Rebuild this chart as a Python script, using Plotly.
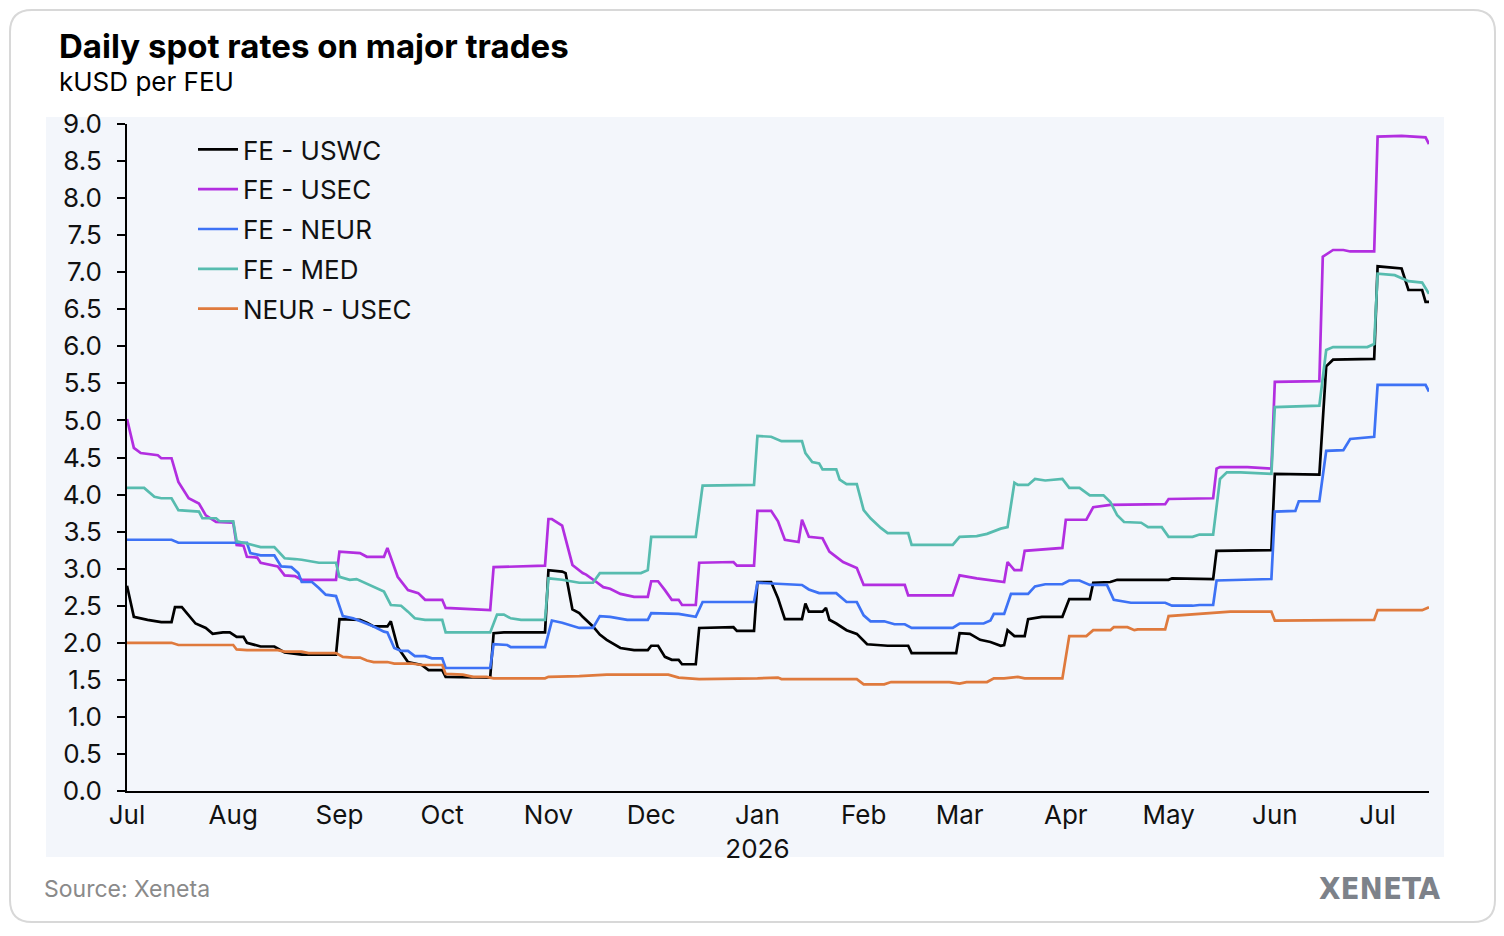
import plotly.graph_objects as go

# ---------------- data (kUSD per FEU) ----------------
uswc_dates = ["2025-07-01","2025-07-03","2025-07-07","2025-07-11","2025-07-14","2025-07-15","2025-07-17","2025-07-19","2025-07-21","2025-07-24","2025-07-26","2025-07-29","2025-07-31","2025-08-02","2025-08-04","2025-08-05","2025-08-08","2025-08-09","2025-08-13","2025-08-16","2025-08-21","2025-08-31","2025-09-01","2025-09-07","2025-09-09","2025-09-11","2025-09-15","2025-09-16","2025-09-18","2025-09-21","2025-09-22","2025-09-25","2025-09-27","2025-10-01","2025-10-02","2025-10-15","2025-10-16","2025-10-19","2025-10-31","2025-11-01","2025-11-05","2025-11-06","2025-11-08","2025-11-10","2025-11-11","2025-11-14","2025-11-16","2025-11-18","2025-11-22","2025-11-26","2025-11-30","2025-12-01","2025-12-03","2025-12-05","2025-12-07","2025-12-09","2025-12-10","2025-12-14","2025-12-15","2025-12-25","2025-12-26","2025-12-31","2026-01-01","2026-01-05","2026-01-07","2026-01-09","2026-01-14","2026-01-15","2026-01-16","2026-01-20","2026-01-21","2026-01-22","2026-01-24","2026-01-27","2026-01-30","2026-02-02","2026-02-08","2026-02-14","2026-02-15","2026-02-28","2026-03-01","2026-03-04","2026-03-07","2026-03-10","2026-03-13","2026-03-14","2026-03-15","2026-03-17","2026-03-20","2026-03-21","2026-03-25","2026-03-31","2026-04-02","2026-04-08","2026-04-09","2026-04-14","2026-04-16","2026-05-01","2026-05-02","2026-05-08","2026-05-14","2026-05-15","2026-05-31","2026-06-01","2026-06-14","2026-06-16","2026-06-18","2026-06-30","2026-07-01","2026-07-08","2026-07-10","2026-07-14","2026-07-15","2026-07-16"]
uswc_values = [2.77,2.35,2.31,2.28,2.28,2.48,2.48,2.37,2.26,2.20,2.12,2.14,2.14,2.08,2.08,2.00,1.97,1.95,1.95,1.87,1.84,1.84,2.32,2.31,2.27,2.22,2.22,2.29,1.94,1.74,1.73,1.70,1.63,1.63,1.54,1.53,2.13,2.14,2.14,2.98,2.96,2.94,2.45,2.40,2.35,2.22,2.11,2.04,1.93,1.90,1.90,1.96,1.96,1.81,1.77,1.77,1.71,1.71,2.20,2.21,2.16,2.16,2.82,2.82,2.60,2.32,2.32,2.53,2.42,2.42,2.47,2.31,2.26,2.17,2.12,1.98,1.96,1.96,1.86,1.86,2.13,2.12,2.04,2.01,1.96,1.97,2.17,2.09,2.09,2.32,2.35,2.35,2.59,2.59,2.81,2.82,2.85,2.85,2.87,2.87,2.86,3.24,3.25,4.28,4.27,5.73,5.82,5.83,7.08,7.05,6.76,6.76,6.60,6.60]

usec_dates = ["2025-07-01","2025-07-03","2025-07-05","2025-07-10","2025-07-11","2025-07-14","2025-07-16","2025-07-19","2025-07-22","2025-07-24","2025-07-27","2025-07-31","2025-08-01","2025-08-02","2025-08-04","2025-08-05","2025-08-08","2025-08-09","2025-08-14","2025-08-16","2025-08-19","2025-08-21","2025-08-31","2025-09-01","2025-09-07","2025-09-09","2025-09-14","2025-09-15","2025-09-18","2025-09-21","2025-09-24","2025-09-26","2025-10-01","2025-10-02","2025-10-15","2025-10-16","2025-10-31","2025-11-01","2025-11-02","2025-11-05","2025-11-08","2025-11-11","2025-11-12","2025-11-15","2025-11-17","2025-11-19","2025-11-22","2025-11-26","2025-11-30","2025-12-01","2025-12-03","2025-12-05","2025-12-07","2025-12-09","2025-12-10","2025-12-14","2025-12-15","2025-12-25","2025-12-26","2025-12-31","2026-01-01","2026-01-05","2026-01-07","2026-01-09","2026-01-13","2026-01-14","2026-01-16","2026-01-20","2026-01-22","2026-01-24","2026-01-26","2026-01-30","2026-02-01","2026-02-13","2026-02-14","2026-02-27","2026-03-01","2026-03-06","2026-03-10","2026-03-14","2026-03-15","2026-03-17","2026-03-19","2026-03-20","2026-03-31","2026-04-01","2026-04-07","2026-04-09","2026-04-14","2026-04-30","2026-05-01","2026-05-14","2026-05-15","2026-05-16","2026-05-24","2026-05-31","2026-06-01","2026-06-14","2026-06-15","2026-06-18","2026-06-21","2026-06-23","2026-06-30","2026-07-01","2026-07-08","2026-07-15","2026-07-16"]
usec_values = [5.02,4.63,4.56,4.53,4.49,4.49,4.17,3.95,3.88,3.72,3.63,3.62,3.62,3.32,3.31,3.16,3.15,3.08,3.03,2.91,2.90,2.85,2.85,3.23,3.21,3.16,3.16,3.28,2.89,2.71,2.67,2.58,2.58,2.47,2.44,3.02,3.04,3.67,3.67,3.58,3.05,2.94,2.92,2.82,2.75,2.73,2.66,2.62,2.62,2.83,2.83,2.71,2.58,2.58,2.51,2.51,3.08,3.09,3.04,3.04,3.78,3.78,3.64,3.39,3.36,3.66,3.43,3.41,3.23,3.16,3.09,3.01,2.78,2.78,2.64,2.64,2.91,2.87,2.84,2.82,3.09,2.98,2.98,3.24,3.28,3.66,3.66,3.83,3.86,3.87,3.94,3.95,4.35,4.37,4.37,4.35,5.52,5.53,7.21,7.30,7.30,7.28,7.28,8.83,8.84,8.82,8.73]

neur_dates = ["2025-07-01","2025-07-14","2025-07-16","2025-08-05","2025-08-06","2025-08-09","2025-08-13","2025-08-15","2025-08-18","2025-08-20","2025-08-21","2025-08-24","2025-08-26","2025-08-28","2025-08-31","2025-09-02","2025-09-05","2025-09-08","2025-09-11","2025-09-14","2025-09-15","2025-09-17","2025-09-19","2025-09-21","2025-09-23","2025-09-26","2025-09-28","2025-10-01","2025-10-02","2025-10-15","2025-10-16","2025-10-20","2025-10-21","2025-10-31","2025-11-02","2025-11-05","2025-11-10","2025-11-14","2025-11-16","2025-11-19","2025-11-24","2025-11-30","2025-12-01","2025-12-09","2025-12-14","2025-12-16","2025-12-31","2026-01-01","2026-01-14","2026-01-16","2026-01-19","2026-01-24","2026-01-27","2026-01-30","2026-02-01","2026-02-03","2026-02-07","2026-02-10","2026-02-13","2026-02-15","2026-02-27","2026-03-01","2026-03-08","2026-03-10","2026-03-11","2026-03-14","2026-03-16","2026-03-21","2026-03-23","2026-03-26","2026-03-31","2026-04-02","2026-04-05","2026-04-08","2026-04-13","2026-04-15","2026-04-20","2026-04-30","2026-05-02","2026-05-08","2026-05-10","2026-05-14","2026-05-15","2026-05-31","2026-06-01","2026-06-07","2026-06-08","2026-06-14","2026-06-16","2026-06-21","2026-06-23","2026-06-30","2026-07-01","2026-07-15","2026-07-16"]
neur_values = [3.39,3.39,3.35,3.35,3.21,3.18,3.18,3.03,3.02,2.94,2.82,2.82,2.74,2.65,2.63,2.36,2.33,2.28,2.22,2.15,2.14,1.93,1.89,1.89,1.82,1.82,1.79,1.79,1.66,1.66,1.98,1.97,1.94,1.94,2.30,2.27,2.20,2.20,2.36,2.35,2.31,2.31,2.40,2.39,2.35,2.55,2.55,2.81,2.78,2.72,2.67,2.67,2.55,2.55,2.37,2.29,2.29,2.25,2.25,2.20,2.20,2.26,2.26,2.30,2.39,2.39,2.66,2.66,2.76,2.79,2.79,2.84,2.84,2.78,2.78,2.58,2.54,2.54,2.50,2.50,2.51,2.51,2.84,2.86,3.77,3.78,3.91,3.91,4.59,4.60,4.75,4.78,5.48,5.48,5.39]

med_dates = ["2025-07-01","2025-07-06","2025-07-09","2025-07-11","2025-07-14","2025-07-16","2025-07-22","2025-07-23","2025-07-27","2025-07-28","2025-08-01","2025-08-02","2025-08-05","2025-08-09","2025-08-13","2025-08-16","2025-08-19","2025-08-21","2025-08-26","2025-08-31","2025-09-01","2025-09-04","2025-09-06","2025-09-09","2025-09-11","2025-09-14","2025-09-16","2025-09-19","2025-09-21","2025-09-23","2025-09-26","2025-10-01","2025-10-02","2025-10-15","2025-10-17","2025-10-19","2025-10-21","2025-10-24","2025-10-31","2025-11-01","2025-11-05","2025-11-10","2025-11-14","2025-11-16","2025-11-28","2025-11-30","2025-12-01","2025-12-14","2025-12-16","2025-12-31","2026-01-01","2026-01-05","2026-01-08","2026-01-14","2026-01-15","2026-01-17","2026-01-19","2026-01-20","2026-01-24","2026-01-25","2026-01-27","2026-01-30","2026-02-01","2026-02-03","2026-02-06","2026-02-08","2026-02-14","2026-02-15","2026-02-27","2026-03-01","2026-03-06","2026-03-09","2026-03-13","2026-03-15","2026-03-17","2026-03-18","2026-03-21","2026-03-23","2026-03-26","2026-03-31","2026-04-02","2026-04-05","2026-04-08","2026-04-12","2026-04-14","2026-04-16","2026-04-18","2026-04-23","2026-04-25","2026-04-29","2026-05-01","2026-05-08","2026-05-10","2026-05-14","2026-05-16","2026-05-18","2026-05-22","2026-05-31","2026-06-01","2026-06-14","2026-06-16","2026-06-18","2026-06-28","2026-06-30","2026-07-01","2026-07-06","2026-07-10","2026-07-14","2026-07-16"]
med_values = [4.09,4.09,3.97,3.95,3.95,3.79,3.77,3.68,3.68,3.64,3.64,3.37,3.34,3.29,3.29,3.14,3.13,3.12,3.08,3.08,2.89,2.85,2.86,2.80,2.75,2.69,2.51,2.50,2.42,2.33,2.31,2.31,2.14,2.14,2.38,2.38,2.33,2.31,2.31,2.87,2.85,2.81,2.81,2.94,2.94,2.98,3.43,3.43,4.12,4.13,4.79,4.78,4.72,4.72,4.56,4.44,4.42,4.34,4.34,4.20,4.14,4.14,3.79,3.68,3.55,3.48,3.48,3.32,3.32,3.43,3.44,3.47,3.54,3.56,4.16,4.13,4.13,4.21,4.19,4.21,4.09,4.09,3.99,3.99,3.90,3.72,3.63,3.62,3.56,3.56,3.43,3.43,3.46,3.46,4.21,4.30,4.30,4.28,5.18,5.20,5.95,5.99,5.99,6.03,6.98,6.96,6.88,6.86,6.71]

neur_usec_dates = ["2025-07-01","2025-07-14","2025-07-16","2025-07-22","2025-07-24","2025-07-31","2025-08-01","2025-08-02","2025-08-05","2025-08-14","2025-08-16","2025-08-21","2025-08-23","2025-08-31","2025-09-02","2025-09-05","2025-09-07","2025-09-09","2025-09-11","2025-09-15","2025-09-17","2025-09-22","2025-09-25","2025-10-01","2025-10-02","2025-10-07","2025-10-10","2025-10-14","2025-10-16","2025-10-31","2025-11-01","2025-11-10","2025-11-18","2025-12-06","2025-12-09","2025-12-15","2025-12-30","2026-01-01","2026-01-07","2026-01-08","2026-01-30","2026-02-01","2026-02-07","2026-02-09","2026-02-26","2026-02-28","2026-03-01","2026-03-03","2026-03-09","2026-03-11","2026-03-14","2026-03-18","2026-03-20","2026-03-31","2026-04-02","2026-04-07","2026-04-09","2026-04-14","2026-04-15","2026-04-19","2026-04-21","2026-04-22","2026-04-30","2026-05-01","2026-05-04","2026-05-13","2026-05-19","2026-05-31","2026-06-01","2026-06-30","2026-07-01","2026-07-14","2026-07-16"]
neur_usec_values = [2.00,2.00,1.97,1.97,1.98,1.98,1.97,1.91,1.90,1.90,1.88,1.88,1.86,1.86,1.81,1.80,1.80,1.76,1.74,1.74,1.72,1.72,1.70,1.70,1.58,1.57,1.54,1.54,1.52,1.52,1.54,1.55,1.57,1.57,1.53,1.51,1.51,1.52,1.53,1.51,1.51,1.44,1.44,1.47,1.47,1.45,1.45,1.47,1.47,1.52,1.52,1.54,1.52,1.52,2.09,2.09,2.17,2.17,2.21,2.21,2.17,2.18,2.18,2.36,2.37,2.39,2.42,2.42,2.30,2.31,2.44,2.44,2.48]

series_names = ["FE - USWC", "FE - USEC", "FE - NEUR", "FE - MED", "NEUR - USEC"]
series_colors = ["#000000", "#b22ee0", "#3d72f5", "#57bcaf", "#df7a3d"]

month_ticks = ["2025-07-01","2025-08-01","2025-09-01","2025-10-01","2025-11-01","2025-12-01","2026-01-01","2026-02-01","2026-03-01","2026-04-01","2026-05-01","2026-06-01","2026-07-01"]
month_labels = ["Jul","Aug","Sep","Oct","Nov","Dec","Jan<br>2026","Feb","Mar","Apr","May","Jun","Jul"]

# ---------------- layout geometry (pixels) ----------------
W, H = 1504, 936
L, R, T, B = 127, 75, 124, 145
PW, PH = W - L - R, H - T - B
FONT = "Inter, Roboto, sans-serif"


def px(x):
    return (x - L) / PW


def py(y):
    return (H - B - y) / PH


def rounded_path(x0, y0, x1, y1, r):
    pts = [
        ("M", x0 + r, y0), ("L", x1 - r, y0), ("Q", x1, y0, x1, y0 + r),
        ("L", x1, y1 - r), ("Q", x1, y1, x1 - r, y1), ("L", x0 + r, y1),
        ("Q", x0, y1, x0, y1 - r), ("L", x0, y0 + r), ("Q", x0, y0, x0 + r, y0),
    ]
    out = []
    for p in pts:
        cmd = p[0]
        coords = p[1:]
        s = cmd + " " + " ".join(
            f"{px(coords[i]):.5f},{py(coords[i + 1]):.5f}" for i in range(0, len(coords), 2)
        )
        out.append(s)
    return " ".join(out) + " Z"


all_dates = [uswc_dates, usec_dates, neur_dates, med_dates, neur_usec_dates]
all_values = [uswc_values, usec_values, neur_values, med_values, neur_usec_values]

fig = go.Figure()
for name, d, v, c in zip(series_names, all_dates, all_values, series_colors):
    fig.add_trace(go.Scatter(x=d, y=v, mode="lines", name=name, legendgroup=name,
                             line=dict(color=c, width=2.7)))

fig.update_layout(
    width=W, height=H,
    margin=dict(l=L, r=R, t=T, b=B),
    paper_bgcolor="white",
    plot_bgcolor="rgba(0,0,0,0)",
    font=dict(family=FONT, color="#000000", size=26),
    showlegend=True,
    legend=dict(x=px(193), y=py(126), xanchor="left", yanchor="top",
                bgcolor="rgba(0,0,0,0)", font=dict(size=26, color="#111111"),
                itemwidth=40, tracegroupgap=3),
    xaxis=dict(type="date", range=["2025-07-01", "2026-07-16"],
               tickvals=month_ticks, ticktext=month_labels,
               showline=True, linecolor="#000000", linewidth=2,
               ticks="", showgrid=False, zeroline=False,
               tickfont=dict(size=26, color="#111111")),
    yaxis=dict(range=[0, 9], tick0=0, dtick=0.5, tickformat=".1f",
               ticks="outside", ticklen=8, tickwidth=2, tickcolor="#000000",
               ticklabelstandoff=10,
               showline=True, linecolor="#000000", linewidth=2,
               showgrid=False, zeroline=False,
               tickfont=dict(size=26, color="#111111")),
    shapes=[
        dict(type="path", xref="paper", yref="paper", layer="below",
             path=rounded_path(10, 10, 1495, 922, 22),
             line=dict(color="#d8d8d8", width=2), fillcolor="white"),
        dict(type="rect", xref="paper", yref="paper", layer="below",
             x0=px(46), x1=px(1444), y0=py(857), y1=py(117),
             line=dict(width=0), fillcolor="#f3f6fb"),
    ],
    annotations=[
        dict(text="<b>Daily spot rates on major trades</b>", xref="paper", yref="paper",
             x=px(57), y=py(46), xanchor="left", yanchor="middle", showarrow=False,
             font=dict(size=33, color="#000000")),
        dict(text="kUSD per FEU", xref="paper", yref="paper",
             x=px(57), y=py(81), xanchor="left", yanchor="middle", showarrow=False,
             font=dict(size=26, color="#000000")),
        dict(text="Source: Xeneta", xref="paper", yref="paper",
             x=px(42), y=py(889), xanchor="left", yanchor="middle", showarrow=False,
             font=dict(size=23, color="#8a8a8a")),
        dict(text="<b>XENETA</b>", xref="paper", yref="paper",
             x=px(1443), y=py(888), xanchor="right", yanchor="middle", showarrow=False,
             font=dict(size=31, color="#7d828a", family="DejaVu Sans Condensed, Roboto, sans-serif")),
    ],
)

fig.write_html("out.html")
